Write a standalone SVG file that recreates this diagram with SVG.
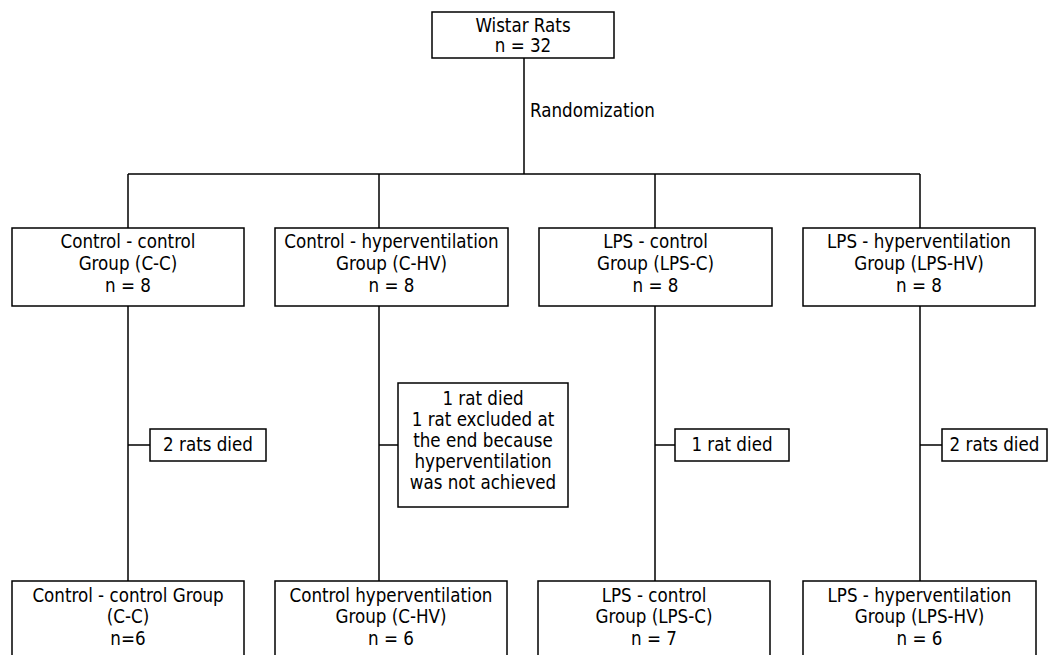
<svg xmlns="http://www.w3.org/2000/svg" width="1049" height="655" viewBox="0 0 1049 655">
<style>
.box{fill:#fff;stroke:#000;stroke-width:1.5}
.ln{fill:none;stroke:#000;stroke-width:1.5}
text{font-family:'DejaVu Sans Condensed','DejaVu Sans',sans-serif;font-stretch:condensed;font-size:18.6px;fill:#000}
.c{text-anchor:middle}
</style>
<rect width="1049" height="655" fill="#fff"/>
<g id="connectors">
<path class="ln" d="M524 58V174M128 174H920M128 174V228M379 174V228M655 174V228M920 174V228"/>
<path class="ln" d="M128 306V581M379 306V581M655 306V581M920 306V581"/>
<path class="ln" d="M128 445H150M379 445H398M655 445H675M920 445H942"/>
<text x="530" y="117">Randomization</text>
</g>
<g id="wistar"><rect class="box" x="432" y="12" width="182" height="46"/><text class="c" x="523" y="32">Wistar Rats</text><text class="c" x="523" y="52">n = 32</text></g>
<g id="cc"><rect class="box" x="12" y="228" width="232" height="78"/><text class="c" x="128" y="248">Control - control</text><text class="c" x="128" y="270">Group (C-C)</text><text class="c" x="128" y="292">n = 8</text></g>
<g id="chv"><rect class="box" x="275" y="228" width="233" height="78"/><text class="c" x="391.5" y="248">Control - hyperventilation</text><text class="c" x="391.5" y="270">Group (C-HV)</text><text class="c" x="391.5" y="292">n = 8</text></g>
<g id="lpsc"><rect class="box" x="539" y="228" width="233" height="78"/><text class="c" x="655.5" y="248">LPS - control</text><text class="c" x="655.5" y="270">Group (LPS-C)</text><text class="c" x="655.5" y="292">n = 8</text></g>
<g id="lpshv"><rect class="box" x="803" y="228" width="232" height="78"/><text class="c" x="919" y="248">LPS - hyperventilation</text><text class="c" x="919" y="270">Group (LPS-HV)</text><text class="c" x="919" y="292">n = 8</text></g>
<g id="d1"><rect class="box" x="150" y="429" width="116" height="32"/><text class="c" x="208" y="451">2 rats died</text></g>
<g id="d2"><rect class="box" x="398" y="383" width="170" height="124"/><text class="c" x="483" y="405">1 rat died</text><text class="c" x="483" y="426">1 rat excluded at</text><text class="c" x="483" y="447">the end because</text><text class="c" x="483" y="468">hyperventilation</text><text class="c" x="483" y="489">was not achieved</text></g>
<g id="d3"><rect class="box" x="675" y="429" width="114" height="32"/><text class="c" x="732" y="451">1 rat died</text></g>
<g id="d4"><rect class="box" x="942" y="429" width="105" height="32"/><text class="c" x="994.5" y="451">2 rats died</text></g>
<g id="cc2"><rect class="box" x="12" y="581" width="232" height="90"/><text class="c" x="128" y="602">Control - control Group</text><text class="c" x="128" y="623">(C-C)</text><text class="c" x="128" y="645">n=6</text></g>
<g id="chv2"><rect class="box" x="275" y="581" width="232" height="90"/><text class="c" x="391" y="602">Control hyperventilation</text><text class="c" x="391" y="623">Group (C-HV)</text><text class="c" x="391" y="645">n = 6</text></g>
<g id="lpsc2"><rect class="box" x="538" y="581" width="232" height="90"/><text class="c" x="654" y="602">LPS - control</text><text class="c" x="654" y="623">Group (LPS-C)</text><text class="c" x="654" y="645">n = 7</text></g>
<g id="lpshv2"><rect class="box" x="803" y="581" width="233" height="90"/><text class="c" x="919.5" y="602">LPS - hyperventilation</text><text class="c" x="919.5" y="623">Group (LPS-HV)</text><text class="c" x="919.5" y="645">n = 6</text></g>
</svg>
